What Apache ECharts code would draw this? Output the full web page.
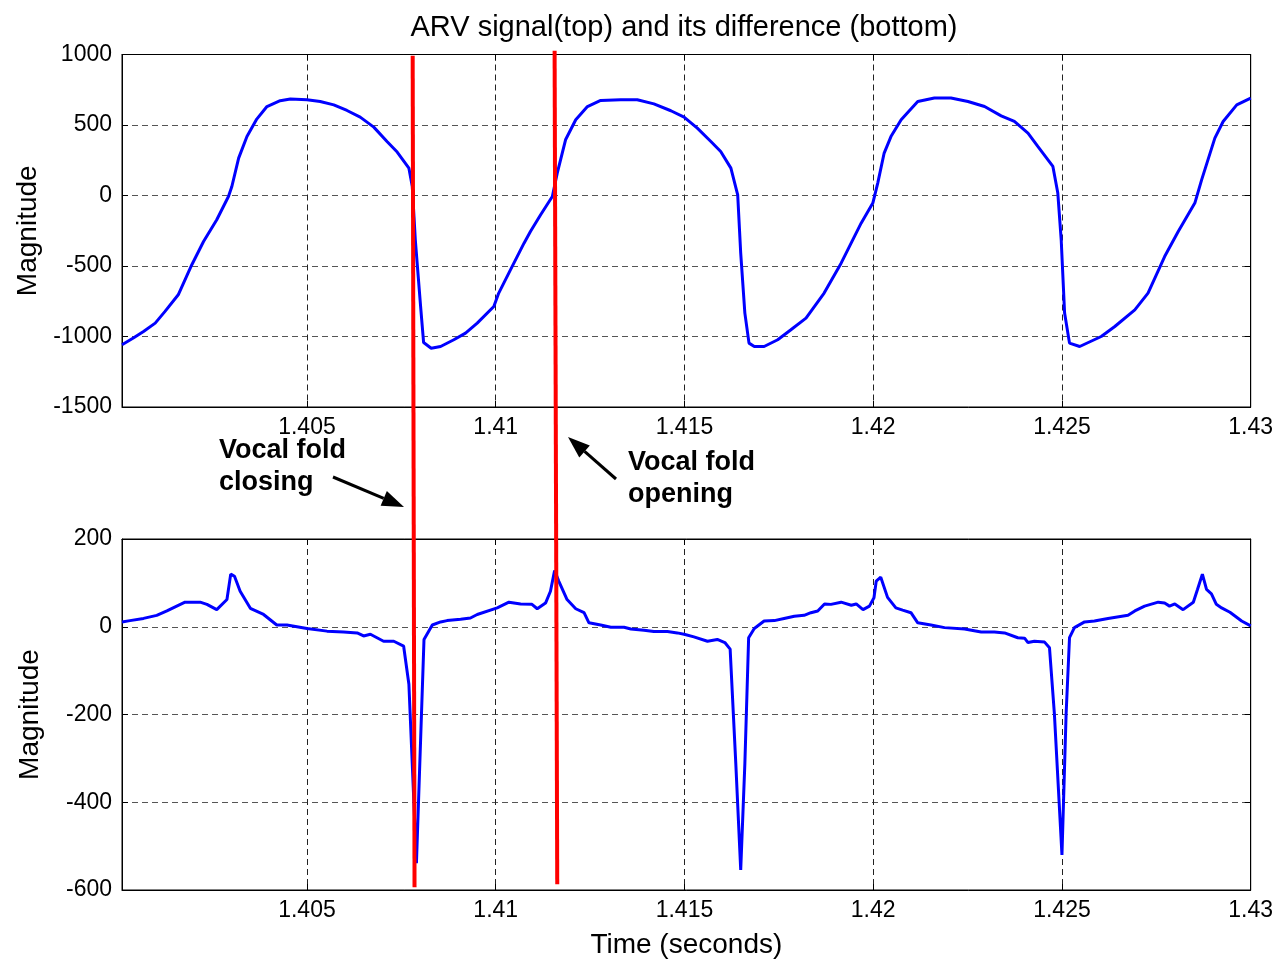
<!DOCTYPE html>
<html>
<head>
<meta charset="utf-8">
<script src="https://cdn.jsdelivr.net/npm/echarts@6/dist/echarts.min.js"></script>
<style>html,body{margin:0;padding:0;background:#fff}#chart{width:1277px;height:960px}</style>
</head>
<body>
<div id="chart"></div>
<script>
// ---- data ----
const titleText = 'ARV signal(top) and its difference (bottom)';
const xAxisName = 'Time (seconds)';
const yAxisName = 'Magnitude';

const topTime = [1.4001,1.4004,1.40067,1.40098,1.40124,1.40159,1.40195,1.40226,1.40261,1.40292,
  1.40301,1.40319,1.40341,1.40367,1.40394,1.40429,1.40456,1.405,1.40535,1.40571,
  1.40606,1.40641,1.40677,1.40712,1.40739,1.4077,1.40779,1.40787,1.40801,1.40809,
  1.40829,1.40854,1.40889,1.4092,1.40951,1.40995,1.41008,1.41039,1.41075,1.41092,
  1.41119,1.4115,1.41163,1.41185,1.41212,1.41243,1.41278,1.41331,1.41375,1.41419,
  1.41464,1.41499,1.41534,1.4157,1.41596,1.41623,1.41641,1.41649,1.4166,1.41671,
  1.41685,1.41711,1.41747,1.41782,1.41822,1.4187,1.41915,1.41968,1.41999,1.42012,
  1.42029,1.42047,1.42074,1.42118,1.42162,1.42206,1.42251,1.42295,1.42339,1.42374,
  1.4241,1.42436,1.42476,1.42489,1.42498,1.42507,1.4252,1.42547,1.42604,1.4264,
  1.42693,1.42728,1.42772,1.42808,1.42852,1.4287,1.42905,1.42927,1.42963,1.43];
const topValue = [-1059,-1011,-964,-905,-822,-704,-491,-326,-172,-7,
  64,265,418,542,631,672,684,679,667,643,
  603,556,485,383,308,194,64,-314,-787,-1043,
  -1083,-1071,-1023,-976,-905,-787,-692,-527,-338,-255,
  -137,-7,159,395,537,631,674,679,679,650,
  601,556,478,383,312,194,5,-409,-834,-1047,
  -1071,-1071,-1023,-952,-870,-692,-480,-196,-54,88,
  301,418,537,667,691,691,667,631,565,525,
  443,348,206,17,-314,-834,-1047,-1071,-1000,-929,
  -811,-692,-433,-255,-54,111,407,525,643,691];

const diffTime = [1.4001,1.40031,1.40067,1.40102,1.40129,1.40155,1.40177,1.40217,1.40235,1.40261,
  1.40288,1.40298,1.40308,1.40323,1.4035,1.40385,1.4042,1.40447,1.405,1.40553,
  1.40597,1.40633,1.4065,1.40668,1.40703,1.4073,1.40756,1.4077,1.4079,1.4081,
  1.40832,1.40854,1.40871,1.40907,1.40933,1.40951,1.41004,1.41035,1.41066,1.41096,
  1.4111,1.41132,1.41145,1.41156,1.41167,1.41189,1.41212,1.41234,1.41247,1.41278,
  1.41305,1.4134,1.41358,1.41393,1.41419,1.41455,1.41481,1.41499,1.41525,1.41561,
  1.41587,1.41607,1.41621,1.41636,1.41649,1.4166,1.4167,1.41685,1.41711,1.41738,
  1.41764,1.41791,1.41817,1.41835,1.41853,1.41871,1.41888,1.41915,1.41942,1.41955,
  1.41973,1.4199,1.42002,1.42008,1.4202,1.42038,1.4206,1.42078,1.421,1.42118,
  1.42153,1.42189,1.42242,1.42286,1.42321,1.42348,1.42383,1.42401,1.4241,1.42427,
  1.42454,1.42467,1.4248,1.425,1.42511,1.4252,1.42533,1.4256,1.42586,1.42622,
  1.42675,1.42693,1.42719,1.42755,1.42772,1.42785,1.42799,1.42821,1.42848,1.42859,
  1.42872,1.42883,1.42896,1.42909,1.42923,1.42945,1.42976,1.43];
const diffValue = [11,14,19,26,36,47,56,56,51,39,
  62,120,115,81,42,28,4,4,-4,-10,
  -12,-14,-21,-17,-33,-33,-44,-131,-539,-29,
  4,11,14,17,20,28,43,56,52,51,
  41,54,81,128,104,62,41,32,9,4,
  -1,-1,-5,-8,-11,-11,-14,-17,-23,-33,
  -29,-36,-51,-312,-554,-312,-25,-4,13,14,
  19,24,26,32,36,52,51,56,49,52,
  39,47,66,104,113,67,43,38,32,9,
  4,-2,-5,-12,-12,-14,-25,-26,-36,-33,
  -35,-48,-199,-520,-199,-25,-2,11,13,19,
  26,36,47,56,54,47,52,39,56,85,
  120,85,75,51,43,33,13,2];

// red marker lines: [time, value] at top (top panel) and bottom (bottom panel)
const closingLine = [[1.40780, 991], [1.40785, -594]];
const openingLine = [[1.41156, 1026], [1.41163, -587]];

const xRange = [1.4001, 1.43];
const topYRange = [-1500, 1000], topYStep = 500;
const diffYRange = [-600, 200], diffYStep = 200;

// ---- chart ----
const FONT = "'Liberation Sans', Arial, sans-serif";
const chart = echarts.init(document.getElementById('chart'), null, {renderer: 'canvas'});
const pair = (xs, ys) => xs.map((x, i) => [x, ys[i]]);

const gridStyle = {show: true, borderColor: '#000', borderWidth: 1, backgroundColor: '#fff'};
const grids = [
  Object.assign({left: 122, top: 54.5, width: 1128.7, height: 352.5}, gridStyle),
  Object.assign({left: 122, top: 539, width: 1128.7, height: 351.3}, gridStyle)
];

function mainX(gi, withName) {
  return {
    type: 'value', gridIndex: gi, min: xRange[0], max: xRange[1], splitNumber: 6,
    axisLine: {show: true, onZero: false, lineStyle: {color: '#000', width: 1}},
    axisTick: {show: true, inside: true, length: 6, lineStyle: {color: '#000'}},
    axisLabel: {show: true, color: '#000', fontSize: 23, fontFamily: FONT, margin: 9,
      showMinLabel: false, formatter: v => String(+v.toFixed(4))},
    splitLine: {show: true, lineStyle: {color: '#222', type: [6, 4], width: 1}},
    name: withName ? xAxisName : '', nameLocation: 'middle', nameGap: 41,
    nameTextStyle: {color: '#000', fontSize: 28, fontFamily: FONT}
  };
}
function mirrorX(gi) {
  return {
    type: 'value', gridIndex: gi, position: 'top', min: xRange[0], max: xRange[1], splitNumber: 6,
    axisLine: {show: true, onZero: false, lineStyle: {color: '#000'}},
    axisTick: {show: true, inside: true, length: 6, lineStyle: {color: '#000'}},
    axisLabel: {show: false}, splitLine: {show: false}
  };
}
function mainY(gi, range, step) {
  return {
    type: 'value', gridIndex: gi, min: range[0], max: range[1], interval: step,
    axisLine: {show: true, onZero: false, lineStyle: {color: '#000', width: 1}},
    axisTick: {show: true, inside: true, length: 6, lineStyle: {color: '#000'}},
    axisLabel: {color: '#000', fontSize: 23, fontFamily: FONT, margin: 10, formatter: v => String(v)},
    splitLine: {show: true, lineStyle: {color: '#555', type: [6, 4], width: 1}},
    name: yAxisName, nameLocation: 'middle', nameGap: 78,
    nameTextStyle: {color: '#000', fontSize: 28, fontFamily: FONT}
  };
}
function mirrorY(gi, range, step) {
  return {
    type: 'value', gridIndex: gi, position: 'right', min: range[0], max: range[1], interval: step,
    axisLine: {show: true, onZero: false, lineStyle: {color: '#000'}},
    axisTick: {show: true, inside: true, length: 6, lineStyle: {color: '#000'}},
    axisLabel: {show: false}, splitLine: {show: false}
  };
}

chart.setOption({
  animation: false,
  backgroundColor: '#fff',
  grid: grids,
  xAxis: [mainX(0, false), mainX(1, true), mirrorX(0), mirrorX(1)],
  yAxis: [mainY(0, topYRange, topYStep), mainY(1, diffYRange, diffYStep),
          mirrorY(0, topYRange, topYStep), mirrorY(1, diffYRange, diffYStep)],
  series: [
    {name: 'ARV', type: 'line', xAxisIndex: 0, yAxisIndex: 0, data: pair(topTime, topValue),
      showSymbol: false, lineStyle: {color: '#0000FF', width: 3}, itemStyle: {color: '#0000FF'}},
    {name: 'Difference', type: 'line', xAxisIndex: 1, yAxisIndex: 1, data: pair(diffTime, diffValue),
      showSymbol: false, lineStyle: {color: '#0000FF', width: 3}, itemStyle: {color: '#0000FF'}}
  ]
});

function redLine(def) {
  const a = chart.convertToPixel({xAxisIndex: 0, yAxisIndex: 0}, def[0]);
  const b = chart.convertToPixel({xAxisIndex: 1, yAxisIndex: 1}, def[1]);
  return {type: 'line', z: 100, shape: {x1: a[0], y1: a[1], x2: b[0], y2: b[1]},
    style: {stroke: '#FF0000', lineWidth: 4}};
}
function arrow(x1, y1, x2, y2) {
  const dx = x2 - x1, dy = y2 - y1, L = Math.hypot(dx, dy), ux = dx / L, uy = dy / L;
  const hl = 22, hw = 8;
  const bx = x2 - ux * hl, by = y2 - uy * hl;
  return [
    {type: 'line', z: 101, shape: {x1: x1, y1: y1, x2: bx, y2: by}, style: {stroke: '#000', lineWidth: 3}},
    {type: 'polygon', z: 101, shape: {points: [[x2, y2], [bx - uy * hw, by + ux * hw], [bx + uy * hw, by - ux * hw]]},
      style: {fill: '#000'}}
  ];
}
const annFont = {fontSize: 27, fontWeight: 'bold', fontFamily: FONT, fill: '#000'};
chart.setOption({
  graphic: [
    {type: 'text', z: 102, x: 684, y: 28, style: {text: titleText, fontSize: 29, fontFamily: FONT, fill: '#000',
      textAlign: 'center', textVerticalAlign: 'middle'}},
    redLine(closingLine),
    redLine(openingLine),
    {type: 'text', z: 102, x: 219, y: 451, style: Object.assign({text: 'Vocal fold', textVerticalAlign: 'middle'}, annFont)},
    {type: 'text', z: 102, x: 219, y: 483, style: Object.assign({text: 'closing', textVerticalAlign: 'middle'}, annFont)},
    {type: 'text', z: 102, x: 628, y: 463, style: Object.assign({text: 'Vocal fold', textVerticalAlign: 'middle'}, annFont)},
    {type: 'text', z: 102, x: 628, y: 495, style: Object.assign({text: 'opening', textVerticalAlign: 'middle'}, annFont)}
  ].concat(arrow(333, 477, 404, 507), arrow(616, 479, 568, 437))
});
</script>
</body>
</html>
